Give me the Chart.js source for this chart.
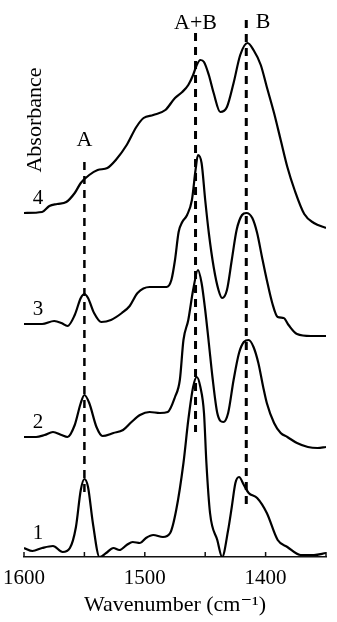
<!DOCTYPE html>
<html>
<head>
<meta charset="utf-8">
<title>IR spectra</title>
<script src="https://cdn.jsdelivr.net/npm/chart.js@4.4.1/dist/chart.umd.min.js"></script>
<style>
    html, body { margin: 0; padding: 0; background: #fff; }
    canvas { display: block; }
</style>
</head>
<body>
<canvas id="spectraChart" width="337" height="622"></canvas>
<script>
// Spectrum 1 (bottom trace)
const wavenumbers1 = [1600, 1593, 1585, 1576, 1568, 1562, 1557, 1553, 1550, 1547,
    1543, 1537.5, 1532, 1526, 1521, 1515, 1510, 1504, 1499, 1493,
    1485, 1479, 1474, 1468, 1464, 1460, 1457, 1454, 1451, 1449,
    1446, 1440, 1436, 1431, 1428, 1425, 1422, 1418, 1414, 1407,
    1399, 1390, 1382, 1371, 1360, 1350];
const absorbance1 = [0.09, 0.06, 0.09, 0.11, 0.05, 0.09, 0.30, 0.67, 0.78, 0.70,
    0.34, 0.00, 0.04, 0.09, 0.07, 0.12, 0.15, 0.14, 0.19, 0.22,
    0.20, 0.24, 0.47, 0.94, 1.37, 1.70, 1.80, 1.70, 1.44, 0.94,
    0.44, 0.17, 0.00, 0.27, 0.50, 0.74, 0.80, 0.72, 0.64, 0.59,
    0.44, 0.17, 0.10, 0.02, 0.02, 0.04];

// Spectrum 2
const wavenumbers2 = [1600, 1590, 1583, 1576, 1569, 1564, 1558, 1553, 1550, 1546,
    1540, 1535, 1526, 1518, 1511, 1504, 1496, 1487.5, 1481, 1475,
    1471, 1468, 1464, 1460, 1456, 1453, 1450, 1447, 1444, 1440,
    1435, 1431, 1426.5, 1422, 1418, 1414, 1410, 1406, 1402, 1399,
    1393, 1387.5, 1382, 1374, 1365, 1357, 1350];
const absorbance2 = [1.20, 1.20, 1.22, 1.25, 1.22, 1.20, 1.32, 1.54, 1.62, 1.54,
    1.30, 1.21, 1.24, 1.27, 1.35, 1.42, 1.45, 1.44, 1.45, 1.60,
    1.77, 2.17, 2.37, 2.67, 2.87, 2.74, 2.47, 2.14, 1.80, 1.44,
    1.35, 1.44, 1.77, 2.04, 2.15, 2.17, 2.10, 1.94, 1.70, 1.54,
    1.34, 1.24, 1.20, 1.14, 1.10, 1.09, 1.10];

// Spectrum 3
const wavenumbers3 = [1600, 1585, 1575, 1569, 1564, 1558, 1553, 1550, 1547, 1542,
    1536, 1528, 1519, 1512.5, 1506, 1496, 1482, 1478, 1475, 1472,
    1469, 1465, 1461, 1458, 1456, 1453, 1450, 1447, 1443, 1439,
    1436, 1432, 1428, 1424, 1419.5, 1416, 1411, 1407, 1403, 1399,
    1394.5, 1390, 1385, 1381, 1374, 1362.5, 1350];
const absorbance3 = [2.33, 2.33, 2.36, 2.34, 2.31, 2.42, 2.59, 2.63, 2.59, 2.44,
    2.35, 2.37, 2.44, 2.51, 2.64, 2.70, 2.70, 2.77, 2.97, 3.25,
    3.35, 3.42, 3.57, 3.87, 4.02, 3.94, 3.57, 3.24, 2.90, 2.67,
    2.59, 2.67, 2.97, 3.27, 3.42, 3.44, 3.39, 3.24, 3.00, 2.77,
    2.54, 2.40, 2.39, 2.32, 2.23, 2.21, 2.21];

// Spectrum 4 (top trace)
const wavenumbers4 = [1600, 1585, 1579, 1572.5, 1565, 1558, 1553, 1546, 1539, 1531,
    1524, 1515, 1507, 1501, 1493, 1483, 1475, 1469, 1464, 1460,
    1457, 1454, 1451, 1447, 1443, 1437.5, 1432, 1426.5, 1421, 1415,
    1410, 1404, 1399, 1393, 1387.5, 1382, 1376, 1368, 1360, 1350];
const absorbance4 = [3.44, 3.45, 3.51, 3.53, 3.55, 3.64, 3.74, 3.82, 3.87, 3.89,
    3.97, 4.12, 4.30, 4.39, 4.42, 4.47, 4.59, 4.65, 4.72, 4.82,
    4.92, 4.97, 4.95, 4.82, 4.64, 4.45, 4.50, 4.74, 5.02, 5.14,
    5.07, 4.92, 4.70, 4.44, 4.17, 3.90, 3.67, 3.43, 3.34, 3.29];

const traceNames = ['1', '2', '3', '4'];

// Band assignments (dashed markers)
const bandLabels = ['A', 'A+B', 'B'];
const bandWavenumbers = [1550, 1458, 1416];
const bandTops = [3.95, 5.24, 5.37];
const bandBottoms = [0.62, 1.25, 0.52];
const bandLabelWavenumbers = [1550, 1458, 1402];
const bandLabelHeights = [4.17, 5.34, 5.35];

const xTickValues = [1600, 1500, 1400];

const SERIF = '"Liberation Serif", "DejaVu Serif", serif';

function toPoints(wn, abs) {
    return wn.map((w, i) => ({ x: w, y: abs[i] }));
}

const spectra = [
    toPoints(wavenumbers1, absorbance1),
    toPoints(wavenumbers2, absorbance2),
    toPoints(wavenumbers3, absorbance3),
    toPoints(wavenumbers4, absorbance4)
];

const datasets = spectra.map((pts, i) => ({
    label: 'Spectrum ' + traceNames[i],
    data: pts,
    borderColor: '#000',
    borderWidth: 2.2,
    fill: false,
    pointRadius: 0,
    cubicInterpolationMode: 'monotone'
}));

bandLabels.forEach((name, i) => {
    datasets.push({
        label: name,
        data: [
            { x: bandWavenumbers[i], y: bandTops[i] },
            { x: bandWavenumbers[i], y: bandBottoms[i] }
        ],
        borderColor: '#000',
        borderWidth: i === 0 ? 2.5 : 3,
        borderDash: [8, 6],
        fill: false,
        pointRadius: 0,
        tension: 0
    });
});

// Inward tick marks, band names, trace numbers and the rotated y caption
const decorPlugin = {
    id: 'spectraDecor',
    afterDraw(chart) {
        const { ctx, chartArea } = chart;
        const xs = chart.scales.x;
        const ys = chart.scales.y;
        ctx.save();

        ctx.strokeStyle = '#111';
        ctx.lineWidth = 1.5;
        xs.ticks.forEach(t => {
            const px = xs.getPixelForValue(t.value);
            ctx.beginPath();
            ctx.moveTo(px, chartArea.bottom);
            ctx.lineTo(px, chartArea.bottom - 5);
            ctx.stroke();
        });

        ctx.fillStyle = '#000';
        ctx.textAlign = 'center';
        ctx.textBaseline = 'middle';
        ctx.font = '22px ' + SERIF;
        bandLabels.forEach((name, i) => {
            ctx.fillText(name,
                xs.getPixelForValue(bandLabelWavenumbers[i]),
                ys.getPixelForValue(bandLabelHeights[i]));
        });

        ctx.font = '21px ' + SERIF;
        spectra.forEach((pts, i) => {
            ctx.fillText(traceNames[i], chartArea.left + 14,
                ys.getPixelForValue(pts[0].y) - 15);
        });

        ctx.font = '22px ' + SERIF;
        ctx.translate(chartArea.left + 11, ys.getPixelForValue(4.37));
        ctx.rotate(-Math.PI / 2);
        ctx.fillText('Absorbance', 0, 0);

        ctx.restore();
    }
};

new Chart(document.getElementById('spectraChart').getContext('2d'), {
    type: 'line',
    data: { datasets: datasets },
    options: {
        responsive: false,
        animation: false,
        layout: { padding: { left: 24, right: 11, top: 0, bottom: 0 } },
        plugins: {
            legend: { display: false },
            tooltip: { enabled: false }
        },
        scales: {
            x: {
                type: 'linear',
                reverse: true,
                min: 1350,
                max: 1600,
                afterFit: function(scale) {
                    scale.height = 65;
                    scale.paddingLeft = 0;
                    scale.paddingRight = 0;
                },
                grid: { display: false, drawTicks: false },
                border: { display: true, color: '#111', width: 1.5 },
                ticks: {
                    stepSize: 50,
                    autoSkip: false,
                    maxRotation: 0,
                    padding: 9,
                    color: '#000',
                    font: { family: SERIF, size: 21 },
                    callback: function(value) {
                        return xTickValues.includes(value) ? String(value) : '';
                    }
                },
                title: {
                    display: true,
                    text: 'Wavenumber (cm\u207B\u00B9)',
                    color: '#000',
                    font: { family: SERIF, size: 22 },
                    padding: { top: 0, bottom: 4 }
                }
            },
            y: {
                display: false,
                min: 0,
                max: 5.57
            }
        }
    },
    plugins: [decorPlugin]
});
</script>
</body>
</html>
